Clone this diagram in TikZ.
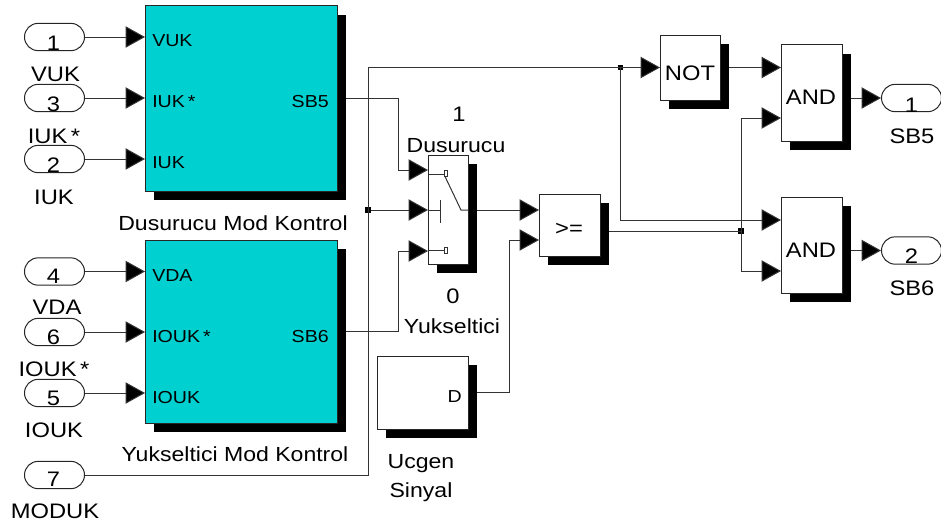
\documentclass[tikz,border=0pt]{standalone}
\usepackage{fontspec}
\setmainfont[FakeStretch=1.13]{Liberation Sans}
\usetikzlibrary{arrows.meta,shapes.misc}
\definecolor{teal}{HTML}{00D0D0}
\tikzset{
  blockbox/.style={draw=black!85,line width=.75pt,fill=white,inner sep=0pt},
  shadowbox/.style={fill=black,draw=none,inner sep=0pt},
  port/.style={rounded rectangle,draw=black!85,line width=.75pt,fill=white,minimum width=45pt,minimum height=20.5pt,inner sep=0pt},
  wire/.style={draw=black!80,line width=.75pt},
  sig/.style={wire,-{Triangle[length=14.6pt,width=16pt,fill=black]}},
  lab/.style={font=\fontsize{15.75pt}{16pt}\selectfont,anchor=base,inner sep=0pt},
  captxt/.style={font=\fontsize{15.3pt}{16pt}\selectfont,anchor=base,inner sep=0pt},
  inner/.style={font=\fontsize{13pt}{14pt}\selectfont,inner sep=0pt},
  dot/.style={fill=black,draw=none,minimum size=4pt,inner sep=0pt},
}
\newcommand\blk[6]{%
  \pgfmathsetmacro\ww{(#4-#2)*0.75}%
  \pgfmathsetmacro\hh{(#5-#3)*0.75}%
  \pgfmathsetmacro\cx{(#2+#4)/2}%
  \pgfmathsetmacro\cy{(#3+#5)/2}%
  \node[shadowbox,minimum width=\ww pt,minimum height=\hh pt] (#1s) at (\cx+8.5,\cy+9) {};
  \node[blockbox,fill=#6,minimum width=\ww pt,minimum height=\hh pt] (#1) at (\cx,\cy) {};
}
\begin{document}
\begin{tikzpicture}[x=0.75pt,y=-0.75pt]
\useasboundingbox (0,0) rectangle (941,525);
% blocks
\blk{dm}{145.5}{5.5}{337.5}{191}{teal}
\blk{ym}{145.5}{240}{337.5}{423}{teal}
\blk{sw}{428}{155}{468}{264}{white}
\blk{ge}{539}{194}{600}{256}{white}
\blk{tri}{377}{356}{468}{429}{white}
\blk{nt}{660}{35}{720}{100}{white}
\blk{an}{781}{44.5}{842}{141}{white}
\blk{bn}{781}{197}{842}{293}{white}
% input ports
\node[port] (p1) at (54.5,37) {};
\node[port] (p3) at (54.5,98) {};
\node[port] (p2) at (54.5,159) {};
\node[port] (p4) at (54.5,271.5) {};
\node[port] (p6) at (54.5,332) {};
\node[port] (p5) at (54.5,393) {};
\node[port] (p7) at (54.5,475) {};
\node[port] (o1) at (911.5,98) {};
\node[port] (o2) at (911.5,250.5) {};
% port numbers
\node[lab] (n1) at (53.5,50) {1};
\node[lab] (n3) at (53.5,111) {3};
\node[lab] (n2) at (53.5,172) {2};
\node[lab] (n4) at (53.5,283) {4};
\node[lab] (n6) at (53.5,344) {6};
\node[lab] (n5) at (53.5,405) {5};
\node[lab] (n7) at (53.5,486) {7};
\node[lab] (no1) at (911.5,112) {1};
\node[lab] (no2) at (911.5,263) {2};
% port labels
\node[lab] (l1) at (55.5,81) {VUK};
\node[lab] (l3) at (54,143) {IUK\,*};
\node[lab] (l2) at (54,204) {IUK};
\node[lab] (l4) at (57,314) {VDA};
\node[lab] (l6) at (54,376) {IOUK\,*};
\node[lab] (l5) at (54,437) {IOUK};
\node[lab] (l7) at (55,518) {MODUK};
\node[lab] (lo1) at (912,143) {SB5};
\node[lab] (lo2) at (912,295) {SB6};
% block captions
\node[captxt] (c1) at (233,230) {Dusurucu Mod Kontrol};
\node[captxt] (c2) at (235,461) {Yukseltici Mod Kontrol};
\node[lab] (c3) at (459,121) {1};
\node[captxt] (c4) at (456,152) {Dusurucu};
\node[lab] (c5) at (453,303) {0};
\node[captxt] (c6) at (452,333) {Yukseltici};
\node[captxt] (c7) at (421,468) {Ucgen};
\node[captxt] (c8) at (421,497) {Sinyal};
% block texts
\node[lab] (t1) at (569,235) {>=};
\node[lab] (t2) at (690,80) {NOT};
\node[lab] (t3) at (811,104) {AND};
\node[lab] (t4) at (811,257) {AND};
\node[inner,anchor=base west] (i1) at (152,46) {VUK};
\node[inner,anchor=base west] (i2) at (152,107) {IUK\,*};
\node[inner,anchor=base west] (i3) at (152,168) {IUK};
\node[inner,anchor=base east] (i4) at (329,107) {SB5};
\node[inner,anchor=base west] (i5) at (152,281) {VDA};
\node[inner,anchor=base west] (i6) at (152,342) {IOUK\,*};
\node[inner,anchor=base west] (i7) at (152,403) {IOUK};
\node[inner,anchor=base east] (i8) at (329,342) {SB6};
\node[inner,anchor=base east] (i9) at (462,402) {D};
% routing points
\coordinate (dmo) at (346,98);
\coordinate (ymo) at (346,331);
\coordinate (swa) at (428,170);
\coordinate (swb) at (428,210);
\coordinate (swc) at (428,251);
\coordinate (gea) at (539,210);
\coordinate (geb) at (539,240);
\coordinate (geo) at (608.5,231);
\coordinate (trio) at (477,392);
\coordinate (nti) at (660,67.5);
\coordinate (nto) at (729,67.5);
\coordinate (ana) at (781,67.5);
\coordinate (anb) at (781,118);
\coordinate (bna) at (781,220);
\coordinate (bnb) at (781,271);
\coordinate (ano) at (850.5,98);
\coordinate (bno) at (850.5,250.5);
\coordinate (r1) at (398,170);
\coordinate (r2) at (398,251);
\coordinate (r3) at (509,392);
\coordinate (r4) at (368,475);
\node[dot] (j1) at (368,210) {};
\node[dot] (j2) at (620.5,67.5) {};
\node[dot] (j3) at (741,231) {};
% connectors
\foreach \a in {p1,p3,p2}
  \draw[sig] (\a.east) -- (dm.west |- \a.east);
\foreach \a in {p4,p6,p5}
  \draw[sig] (\a.east) -- (ym.west |- \a.east);
\draw[sig] (dmo) -| (r1) -- (swa);
\draw[sig] (ymo) -| (r2) -- (swc);
\draw[sig] (j1) -- (swb);
\draw[sig] (swb -| sws.east) -- (gea);
\draw[sig] (trio) -- (r3) |- (geb);
\draw[wire] (p7.east) -- (r4) |- (j2.center);
\draw[sig] (j2.center) -- (nti);
\draw[sig] (nto) -- (ana);
\draw[sig] (j2.center) |- (bna);
\draw[wire] (geo) -- (j3.center);
\draw[sig] (j3.center) |- (anb);
\draw[sig] (j3.center) |- (bnb);
\draw[sig] (ano) -- (o1.west);
\draw[sig] (bno) -- (o2.west);
% switch symbol
\draw[wire] (428,174.5) -- (444,174.5);
\draw[wire] (444,170.5) rectangle (447,176.5);
\draw[wire] (428,250.5) -- (444,250.5);
\draw[wire] (444,247.5) rectangle (447,253.5);
\draw[wire] (428,210) -- (440.5,210);
\draw[wire] (440.5,200) -- (440.5,223);
\draw[wire] (445,176.5) -- (461,210) -- (468,210);
\end{tikzpicture}
\end{document}
